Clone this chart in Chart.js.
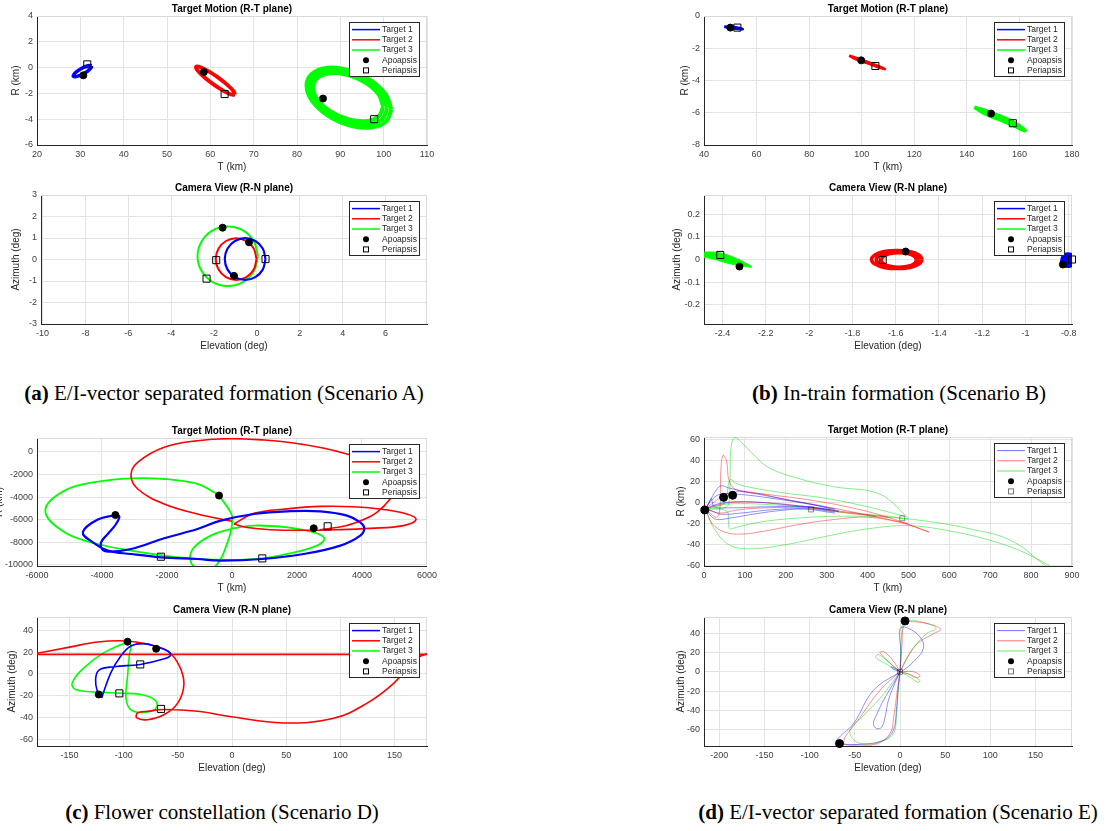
<!DOCTYPE html>
<html>
<head>
<meta charset="utf-8">
<script src="https://cdn.jsdelivr.net/npm/chart.js@4.4.0/dist/chart.umd.min.js"></script>
<style>
  body { margin: 0; background: #fff; width: 1114px; height: 831px; position: relative; overflow: hidden; }
  canvas { position: absolute; }
  .cap { position: absolute; font-family: "Liberation Serif", "DejaVu Serif", serif; font-size: 21px; line-height: 24px;
         color: #000; white-space: nowrap; transform: translateX(-50%); }
</style>
</head>
<body>
<div class="cap" style="left:224px;top:381px"><b>(a)</b> E/I-vector separated formation (Scenario A)</div>
<div class="cap" style="left:899px;top:381px"><b>(b)</b> In-train formation (Scenario B)</div>
<div class="cap" style="left:222px;top:800px"><b>(c)</b> Flower constellation (Scenario D)</div>
<div class="cap" style="left:898px;top:800px"><b>(d)</b> E/I-vector separated formation (Scenario E)</div>
<script>
// ---- data: [x, y] pairs ----
// (a) top, T (km) vs R (km)
const aTopBlue = [[32.6,0.13],[32.14,0.17],[31.25,0.09],[30.15,-0.09],[29.15,-0.31],[28.51,-0.53],[28.4,-0.67],[28.86,-0.71],[29.75,-0.63],[30.85,-0.45],[31.85,-0.23],[32.49,-0.01],[32.6,0.13]];
const aTopRed = [[65.7,-2.10],[65.37,-1.83],[63.93,-1.34],[61.75,-0.76],[59.43,-0.26],[57.58,0.05],[56.7,0.06],[57.03,-0.22],[58.47,-0.71],[60.65,-1.28],[62.97,-1.79],[64.82,-2.09],[65.7,-2.10]];
const aTopGreenOut = [[101.8,-3.26],[100.49,-2.07],[96.9,-0.95],[92.0,-0.19],[87.1,-0.01],[83.51,-0.46],[82.2,-1.40],[83.51,-2.59],[87.1,-3.71],[92.0,-4.47],[96.9,-4.65],[100.49,-4.20],[101.8,-3.26]];
const aTopGreenMid = [[100.85,-3.15],[99.65,-2.07],[96.38,-1.06],[91.9,-0.38],[87.43,-0.22],[84.15,-0.62],[82.95,-1.47],[84.15,-2.55],[87.43,-3.56],[91.9,-4.24],[96.38,-4.40],[99.65,-4.00],[100.85,-3.15]];
const aTopGreenIn = [[99.9,-3.04],[98.82,-2.08],[95.85,-1.18],[91.8,-0.58],[87.75,-0.43],[84.78,-0.79],[83.7,-1.54],[84.78,-2.5],[87.75,-3.4],[91.8,-4.0],[95.85,-4.15],[98.82,-3.79],[99.9,-3.04]];
const aTopApo = [[30.7,-0.6],[58.5,-0.35],[86.0,-2.4]];
const aTopPeri = [[31.6,0.25],[63.3,-2.05],[97.8,-4.0]];

// (a) bottom, Elevation vs Azimuth (deg)
const aBotBlue = [[0.40,0.02],[0.27,0.51],[-0.075,0.86],[-0.55,0.99],[-1.025,0.86],[-1.37,0.51],[-1.50,0.02],[-1.37,-0.47],[-1.025,-0.82],[-0.55,-0.95],[-0.075,-0.82],[0.27,-0.47],[0.40,0.02]];
const aBotRed = [[-0.02,0.02],[-0.15,0.51],[-0.495,0.86],[-0.97,0.99],[-1.445,0.86],[-1.79,0.51],[-1.92,0.02],[-1.79,-0.47],[-1.445,-0.82],[-0.97,-0.95],[-0.495,-0.82],[-0.15,-0.47],[-0.02,0.02]];
const aBotGreen = [[0.05,0.15],[-0.14,0.84],[-0.655,1.35],[-1.36,1.53],[-2.065,1.35],[-2.58,0.84],[-2.77,0.15],[-2.58,-0.54],[-2.065,-1.05],[-1.36,-1.23],[-0.655,-1.05],[-0.14,-0.54],[0.05,0.15]];
const aBotApo = [[-1.6,1.48],[-0.37,0.8],[-1.07,-0.76]];
const aBotPeri = [[0.4,0.02],[-1.9,-0.03],[-2.35,-0.89]];

// (b) top
const bTopBlue = [[47.7,-0.66],[50,-0.68],[52.5,-0.72],[54.7,-0.80],[52.5,-0.78],[50,-0.74],[47.7,-0.66]];
const bTopRed = [[95.2,-2.46],[98,-2.60],[102,-2.83],[106,-3.08],[108.9,-3.29],[106,-3.16],[102,-2.92],[98,-2.70],[95.2,-2.46]];
const bTopGreen = [[142.8,-5.66],[147,-5.86],[152,-6.17],[157,-6.52],[162.2,-7.11],[157,-6.74],[152,-6.40],[147,-6.08],[142.8,-5.66]];
const bTopApo = [[50,-0.72],[99.8,-2.75],[149.2,-6.05]];
const bTopPeri = [[52.7,-0.72],[105.2,-3.1],[157.5,-6.65]];

// (b) bottom
const bBotBlue = [[-0.835,0.0],[-0.825,0.022],[-0.805,0.028],[-0.785,0.022],[-0.778,-0.02],[-0.79,-0.031],[-0.815,-0.031],[-0.835,-0.015],[-0.835,0.0]];
const bBotRed1 = [[-1.476,0],[-1.492,0.020],[-1.535,0.035],[-1.594,0.040],[-1.653,0.035],[-1.696,0.020],[-1.712,0],[-1.696,-0.020],[-1.653,-0.035],[-1.594,-0.040],[-1.535,-0.035],[-1.492,-0.020],[-1.476,0]];
const bBotRed2 = [[-1.490,-0.001],[-1.503,0.017],[-1.540,0.030],[-1.590,0.035],[-1.640,0.030],[-1.677,0.017],[-1.690,-0.001],[-1.677,-0.019],[-1.640,-0.032],[-1.590,-0.037],[-1.540,-0.032],[-1.503,-0.019],[-1.490,-0.001]];
const bBotRed3 = [[-1.503,-0.002],[-1.514,0.014],[-1.544,0.026],[-1.585,0.030],[-1.626,0.026],[-1.656,0.014],[-1.667,-0.002],[-1.656,-0.018],[-1.626,-0.030],[-1.585,-0.034],[-1.544,-0.030],[-1.514,-0.018],[-1.503,-0.002]];
const bBotGreen = [[-2.52,0.030],[-2.45,0.033],[-2.40,0.026],[-2.35,0.010],[-2.30,-0.012],[-2.265,-0.033],[-2.30,-0.030],[-2.35,-0.022],[-2.40,-0.010],[-2.45,0.004],[-2.52,0.015],[-2.52,0.030]];
const bBotApo = [[-2.322,-0.031],[-1.554,0.035],[-0.827,-0.022]];
const bBotPeri = [[-2.411,0.020],[-1.66,-0.002],[-0.785,0.0]];

// (c) top
const cTopBlue = [[-3588,-5594],[-3466,-5710],[-3567,-6394],[-3821,-7282],[-4027,-8018],[-3990,-8650],[-3800,-8850],[-3107,-8614],[-2086,-7663],[-1061,-6838],[-347,-6092],[675,-5506],[1699,-5266],[2720,-5266],[3539,-5648],[3947,-6243],[4070,-6775],[3947,-7424],[3334,-8312],[2208,-9058],[932,-9502],[-347,-9644],[-1061,-9502],[-2187,-9351],[-3107,-9058],[-3821,-8756],[-4281,-8018],[-4588,-7131],[-4128,-6003],[-3588,-5594]];
const cTopRedLoop = [[61,-6394],[675,-5450],[1699,-5050],[2720,-4830],[3742,-4860],[4659,-5100],[5379,-5506],[5664,-6003],[5275,-6536],[4254,-6780],[3231,-6900],[2208,-6950],[1188,-6900],[470,-6700],[61,-6394]];
const cTopRedBig = [[0,-6150],[-1061,-5506],[-2086,-4618],[-2901,-3286],[-3107,-2042],[-2901,-915],[-2086,417],[-1061,1000],[-100,1180],[1000,1060],[1900,800],[2800,350],[3539,-178],[4300,-900],[4850,-2000],[5050,-3100],[4867,-4174],[4459,-5355],[4050,-6003],[3500,-6550],[2700,-6900]];
const cTopGreen = [[-399,-3872],[-40,-5355],[12,-5950],[-40,-7131],[-193,-8463],[-347,-9502],[-601,-10300],[-1113,-10239],[-1288,-9502],[-1166,-8463],[-653,-7424],[-40,-6838],[675,-6536],[1699,-6687],[2515,-7131],[2843,-7663],[2619,-8312],[1699,-9058],[932,-9450],[-40,-9590],[-1061,-9502],[-2086,-9200],[-3107,-8756],[-4128,-8170],[-5152,-7131],[-5745,-5204],[-5152,-3428],[-4128,-2628],[-3107,-2335],[-2086,-2397],[-1061,-2842],[-552,-3579],[-399,-3872]];
const cTopApo = [[-3588,-5594],[-399,-3872],[2515,-6775]];
const cTopPeri = [[-2187,-9300],[932,-9450],[2944,-6598]];

// (c) bottom
const cBotRedLine = [[-180,17.8],[180,17.8]];
const cBotRed = [[-180,18.8],[-150,24.5],[-124,29.2],[-98,30.2],[-78,27.1],[-59.3,20.9],[-48.5,7.1],[-44.4,-9.8],[-50,-26.8],[-62.4,-37.5],[-78,-42.2],[-87.8,-40.6],[-87.2,-36],[-78,-34.5],[-62.4,-32.9],[-31.4,-34.5],[-0.4,-39.5],[47,-45.2],[93,-41.2],[124,-27.4],[149,-9],[170,14],[180,18.5]];
const cBotBlue = [[-120.3,-22.2],[-111.9,0.9],[-102.6,16.3],[-93.3,25.5],[-81,27.7],[-70,25],[-59.3,20.9],[-56.8,16.9],[-62.4,13.8],[-84.7,8.6],[-108.8,6.5],[-122.8,3.4],[-125.9,-5.2],[-124.3,-16],[-120.3,-22.2]];
const cBotGreen = [[-96.4,29.5],[-118.1,19.4],[-136.7,5.5],[-147.5,-8.3],[-144.4,-14.5],[-124.3,-16.9],[-103.9,-17.8],[-84,-19.1],[-71.7,-23.7],[-69.2,-29.8],[-74.8,-34.5],[-87.2,-35.4],[-94.9,-31.4],[-98,-20.6],[-96.4,-2.2],[-94.9,16.3],[-93.3,27.1],[-96.4,29.5]];
const cBotApo = [[-96.4,29.5],[-70,23],[-123,-19]];
const cBotPeri = [[-104,-18],[-84.7,8.6],[-65.5,-32.3]];

// (d) top
const dTopBlue = [
  [[3,-6],[15,2],[30,12],[42,16],[60,14],[120,9],[200,3],[280,-3],[330,-8]],
  [[3,-6],[15,-12],[30,-16],[60,-15],[120,-11],[200,-7],[260,-6],[320,-9]],
  [[3,-6],[20,3],[40,8],[80,8],[150,5],[250,-1],[320,-6]],
  [[3,-6],[20,-8],[40,-11],[90,-10],[160,-7],[240,-6],[320,-10]],
  [[3,-6],[20,-3],[50,0],[100,1],[200,-2],[300,-6],[330,-9]],
  [[3,-6],[10,-2],[18,4],[20,1],[25,-4],[60,-5],[150,-4],[250,-4],[310,-7]]
];
const dTopRed = [
  [[3,-6],[30,-14],[38,-8],[40,10],[42,35],[47,45],[55,40],[62,20],[80,12],[150,8],[250,3],[350,-4],[450,-14],[550,-28]],
  [[3,-6],[20,-20],[50,-28],[90,-30],[150,-27],[230,-21],[320,-16],[400,-14],[480,-19],[550,-28]],
  [[3,-6],[30,2],[60,9],[110,10],[200,3],[300,-4],[400,-12],[500,-20]],
  [[3,-6],[40,-10],[80,-7],[150,-5],[250,-5],[350,-9],[450,-14]],
  [[3,-6],[35,-2],[70,0],[150,0],[250,-4],[330,-9],[420,-13]]
];
const dTopGreen = [
  [[3,-6],[55,-4],[62,5],[64,30],[66,52],[75,62],[90,58],[120,46],[160,33],[240,22],[320,15],[430,8],[500,-15]],
  [[3,-6],[45,-2],[55,5],[60,18],[65,22],[80,18],[120,14],[200,9],[300,4],[400,-4],[490,-13]],
  [[3,-6],[10,-12],[25,-25],[60,-40],[110,-44],[200,-40],[300,-32],[400,-25],[500,-22],[600,-27],[700,-36],[780,-47],[845,-60]],
  [[3,-6],[55,-8],[60,-18],[63,-25],[75,-24],[130,-19],[220,-15],[330,-13],[450,-14],[550,-18],[650,-25],[750,-36],[835,-60]],
  [[3,-6],[30,-3],[80,-1],[160,-2],[260,-5],[360,-10],[450,-13],[500,-16]]
];
const dTopApo = [[2,-7],[48,5],[70,7]];
const dTopPeri = [[262,-6.5],[485,-15]];

// (d) bottom
const dBotBlue = [
  [[0,0],[1,20],[0,44.8],[7.4,45.9],[22.1,36.2],[25.8,24.1],[14.7,10.3],[3.7,1.6],[0,0]],
  [[0,0],[-7.4,-12.2],[-18.3,-29.6],[-25.4,-43.4],[-29.4,-53.8],[-25.8,-59],[-20.2,-57.2],[-16.5,-46.9],[-12.9,-29.6],[-7.4,-15.6],[0,0]],
  [[0,0],[-29.4,-19.2],[-51.5,-53.8],[-70,-71],[-66.3,-74.5],[-44,-75.2],[-18.3,-71],[-7.4,-60.7],[-3.7,-36.5],[-1.8,-15.6],[0,0]],
  [[0,0],[-8,3],[-10,5],[-6,4],[0,0]]
];
const dBotRed = [
  [[0,0],[2,25],[5,50],[15,52],[35,49],[45,44],[38,40],[20,30],[8,15],[0,0]],
  [[0,0],[-3,-19],[-7,-47],[-11,-64],[-25,-74.5],[-44,-76],[-62.6,-73.8],[-44,-47],[-22,-19],[-7,-5.5],[0,0]],
  [[0,0],[-12,10],[-22,20],[-18,21],[-8,12],[0,0]],
  [[0,0],[15,0],[22,-4],[18,-6],[8,-2],[0,0]]
];
const dBotGreen = [
  [[0,0],[2,40],[5.6,52.8],[30,50],[40,45],[30,40],[15,25],[0,0]],
  [[0,0],[-20,-25],[-40,-45],[-55,-60],[-52,-70],[-40,-75],[-22,-72.8],[-7.4,-64.2],[-4,-45],[-2,-20],[0,0]],
  [[0,0],[-15,8],[-27,15],[-24,18],[-10,8],[0,0]],
  [[0,0],[12,-3],[22,-9],[20,-11],[10,-5],[0,0]]
];
const dBotApo = [[5.6,52.8],[-67,-74.5]];
const dBotPeri = [[0,0]];

// ---- tick labels ----
const aTopXTicks = [20,30,40,50,60,70,80,90,100,110];
const aTopYTicks = [-6,-4,-2,0,2,4];
const aBotXTicks = [-10,-8,-6,-4,-2,0,2,4,6];
const aBotYTicks = [-3,-2,-1,0,1,2,3];
const bTopXTicks = [40,60,80,100,120,140,160,180];
const bTopYTicks = [-8,-6,-4,-2,0];
const bBotXTicks = [-2.4,-2.2,-2,-1.8,-1.6,-1.4,-1.2,-1,-0.8];
const bBotYTicks = [-0.2,-0.1,0,0.1,0.2];
const cTopXTicks = [-6000,-4000,-2000,0,2000,4000,6000];
const cTopYTicks = [-10000,-8000,-6000,-4000,-2000,0];
const cBotXTicks = [-150,-100,-50,0,50,100,150];
const cBotYTicks = [-60,-40,-20,0,20,40];
const dTopXTicks = [0,100,200,300,400,500,600,700,800,900];
const dTopYTicks = [-60,-40,-20,0,20,40,60];
const dBotXTicks = [-200,-150,-100,-50,0,50,100,150];
const dBotYTicks = [-60,-40,-20,0,20,40];

const legendNames = ['Target 1', 'Target 2', 'Target 3', 'Apoapsis', 'Periapsis'];

const FONT = '"Liberation Sans", Arial, Helvetica, sans-serif';
const BLUE = '#0000ff', RED = '#ff0000', GREEN = '#00ff00';
const BLUE_T = 'rgba(0,0,255,0.55)', RED_T = 'rgba(255,0,0,0.55)', GREEN_T = 'rgba(0,220,0,0.6)';

function pts(arr) {
    return arr.map(p => ({ x: p[0], y: p[1] }));
}

function line(arr, color, width, fill) {
    return {
        data: pts(arr), showLine: true, borderColor: color, backgroundColor: color,
        borderWidth: width, pointRadius: 0, tension: 0.4, fill: fill ? 'shape' : false, order: 2
    };
}

function apo(arr, r) {
    return { data: pts(arr), showLine: false, pointStyle: 'circle', pointRadius: r || 3.5,
        backgroundColor: '#000', borderColor: '#000', borderWidth: 1, order: 0, clip: 10 };
}

function peri(arr, r, col) {
    return { data: pts(arr), showLine: false, pointStyle: 'rect', pointRadius: r || 5,
        backgroundColor: 'rgba(0,0,0,0)', borderColor: col || '#000', borderWidth: 1, order: 0, clip: 10 };
}

// light box edges on top and right, like the MATLAB axes box
const frame = {
    id: 'frame',
    beforeDatasetsDraw(chart) {
        const { ctx, chartArea: a } = chart;
        ctx.save();
        ctx.strokeStyle = '#dadada';
        ctx.lineWidth = 1;
        ctx.beginPath();
        ctx.moveTo(a.left, a.top + 0.5);
        ctx.lineTo(a.right - 0.5, a.top + 0.5);
        ctx.lineTo(a.right - 0.5, a.bottom);
        ctx.stroke();
        ctx.restore();
    }
};

// legend box drawn inside the upper right corner of the axes
const mlLegend = {
    id: 'mlLegend',
    afterDraw(chart, args, opts) {
        const { ctx, chartArea: a } = chart;
        const w = 71, h = 55;
        const x = Math.round(a.right - 7 - w), y = Math.round(a.top + 6);
        ctx.save();
        ctx.fillStyle = '#fff';
        ctx.fillRect(x, y, w, h);
        ctx.strokeStyle = '#262626';
        ctx.lineWidth = 1;
        ctx.strokeRect(x + 0.5, y + 0.5, w - 1, h - 1);
        ctx.font = '8.5px ' + FONT;
        ctx.textBaseline = 'middle';
        opts.items.forEach((it, i) => {
            const cy = y + 7.6 + 10.2 * i;
            if (it.kind === 'line') {
                ctx.strokeStyle = it.color;
                ctx.lineWidth = it.width;
                ctx.beginPath();
                ctx.moveTo(x + 3, cy);
                ctx.lineTo(x + 31, cy);
                ctx.stroke();
            } else if (it.kind === 'dot') {
                ctx.fillStyle = '#000';
                ctx.beginPath();
                ctx.arc(x + 17, cy, 3, 0, Math.PI * 2);
                ctx.fill();
            } else {
                ctx.strokeStyle = it.color;
                ctx.lineWidth = 1;
                ctx.strokeRect(x + 14.5, cy - 2.5, 5, 5);
            }
            ctx.fillStyle = '#262626';
            ctx.fillText(it.label, x + 33, cy);
        });
        ctx.restore();
    }
};

function legendItems(colors, width, periCol) {
    return [
        { kind: 'line', color: colors[0], width: width, label: legendNames[0] },
        { kind: 'line', color: colors[1], width: width, label: legendNames[1] },
        { kind: 'line', color: colors[2], width: width, label: legendNames[2] },
        { kind: 'dot', label: legendNames[3] },
        { kind: 'square', color: periCol || '#000', label: legendNames[4] }
    ];
}

function axis(range, ticks, title, dir, size) {
    return {
        type: 'linear', min: range[0], max: range[1],
        afterBuildTicks: s => { s.ticks = ticks.map(v => ({ value: v })); },
        afterFit: s => { if (dir === 'x') s.height = size; else s.width = size; },
        grid: { color: '#e3e3e3', drawTicks: false, lineWidth: 1 },
        border: { color: '#262626', width: 1 },
        ticks: { color: '#404040', font: { family: FONT, size: 9 }, padding: 4,
            autoSkip: false, maxRotation: 0, callback: v => String(v) },
        title: { display: true, text: title, color: '#262626', font: { family: FONT, size: 10 }, padding: 0 }
    };
}

// area = [left, right, top, bottom] of the plot box on the page
function makePlot(p) {
    const W = p.yw, R = 14, TH = 13, XH = 28;
    const cw = W + (p.area[1] - p.area[0]) + R;
    const ch = TH + (p.area[3] - p.area[2]) + XH;
    const cv = document.createElement('canvas');
    cv.width = cw;
    cv.height = ch;
    cv.style.left = (p.area[0] - W) + 'px';
    cv.style.top = (p.area[2] - TH) + 'px';
    cv.style.width = cw + 'px';
    cv.style.height = ch + 'px';
    document.body.appendChild(cv);
    new Chart(cv, {
        type: 'scatter',
        data: { datasets: p.datasets },
        options: {
            responsive: false, animation: false, events: [],
            layout: { padding: { left: 0, right: R, top: 0, bottom: 0 } },
            plugins: {
                legend: { display: false },
                tooltip: { enabled: false },
                title: { display: true, text: p.title, fullSize: false, color: '#000',
                    font: { family: FONT, size: 10, weight: 'bold', lineHeight: 1.2 }, padding: { top: 0, bottom: 1 } },
                mlLegend: { items: p.legend }
            },
            scales: {
                x: axis(p.x, p.xTicks, p.xTitle, 'x', XH),
                y: axis(p.y, p.yTicks, p.yTitle, 'y', W)
            }
        },
        plugins: [frame, mlLegend]
    });
}

const TOP_TITLE = 'Target Motion (R-T plane)';
const BOT_TITLE = 'Camera View (R-N plane)';
const solid = [BLUE, RED, GREEN];
const faint = [BLUE_T, RED_T, GREEN_T];

makePlot({
    area: [37, 427, 16, 145], yw: 27, x: [20, 110], y: [-6, 4], xTicks: aTopXTicks, yTicks: aTopYTicks,
    title: TOP_TITLE, xTitle: 'T (km)', yTitle: 'R (km)', legend: legendItems(solid, 1.5),
    datasets: [apo(aTopApo), peri(aTopPeri),
        line(aTopBlue, BLUE, 3.5), line(aTopRed, RED, 3.8),
        line(aTopGreenOut, GREEN, 4), line(aTopGreenMid, GREEN, 4), line(aTopGreenIn, GREEN, 4)]
});

makePlot({
    area: [41, 427, 195, 324], yw: 31, x: [-10.07, 7.93], y: [-3, 3], xTicks: aBotXTicks, yTicks: aBotYTicks,
    title: BOT_TITLE, xTitle: 'Elevation (deg)', yTitle: 'Azimuth (deg)', legend: legendItems(solid, 1.5),
    datasets: [apo(aBotApo), peri(aBotPeri),
        line(aBotBlue, BLUE, 2.2), line(aBotRed, RED, 2), line(aBotGreen, GREEN, 2)]
});

makePlot({
    area: [704, 1072, 16, 145], yw: 25, x: [40, 180], y: [-8, 0], xTicks: bTopXTicks, yTicks: bTopYTicks,
    title: TOP_TITLE, xTitle: 'T (km)', yTitle: 'R (km)', legend: legendItems(solid, 1.5),
    datasets: [apo(bTopApo), peri(bTopPeri),
        line(bTopBlue, BLUE, 3), line(bTopRed, RED, 2.5), line(bTopGreen, GREEN, 3.5)]
});

makePlot({
    area: [704, 1072, 195, 324], yw: 33, x: [-2.486, -0.785], y: [-0.284, 0.284], xTicks: bBotXTicks, yTicks: bBotYTicks,
    title: BOT_TITLE, xTitle: 'Elevation (deg)', yTitle: 'Azimuth (deg)', legend: legendItems(solid, 1.5),
    datasets: [apo(bBotApo), peri(bBotPeri),
        line(bBotBlue, BLUE, 2, true), line(bBotRed1, RED, 3.5), line(bBotRed2, RED, 3.5), line(bBotRed3, RED, 3.5),
        line(bBotGreen, GREEN, 1, true)]
});

makePlot({
    area: [37, 427, 438, 566], yw: 44, x: [-6000, 6000], y: [-10124, 1242], xTicks: cTopXTicks, yTicks: cTopYTicks,
    title: TOP_TITLE, xTitle: 'T (km)', yTitle: 'R (km)', legend: legendItems(solid, 1.5),
    datasets: [apo(cTopApo), peri(cTopPeri),
        line(cTopBlue, BLUE, 2.2), line(cTopRedLoop, RED, 1.6), line(cTopRedBig, RED, 1.6), line(cTopGreen, GREEN, 1.8)]
});

makePlot({
    area: [37, 427, 617, 746], yw: 31, x: [-180, 180], y: [-66.4, 52.2], xTicks: cBotXTicks, yTicks: cBotYTicks,
    title: BOT_TITLE, xTitle: 'Elevation (deg)', yTitle: 'Azimuth (deg)', legend: legendItems(solid, 1.5),
    datasets: [apo(cBotApo), peri(cBotPeri),
        line(cBotBlue, BLUE, 1.6), line(cBotRedLine, RED, 1.8), line(cBotRed, RED, 1.6), line(cBotGreen, GREEN, 1.6)]
});

makePlot({
    area: [704, 1072, 437, 566], yw: 29, x: [0, 900], y: [-60.4, 62.5], xTicks: dTopXTicks, yTicks: dTopYTicks,
    title: TOP_TITLE, xTitle: 'T (km)', yTitle: 'R (km)', legend: legendItems(faint, 1, '#777'),
    datasets: [apo(dTopApo, 4), peri(dTopPeri, 3.5, 'rgba(0,0,0,0.45)')]
        .concat(dTopBlue.map(d => line(d, BLUE_T, 0.8)))
        .concat(dTopRed.map(d => line(d, RED_T, 0.8)))
        .concat(dTopGreen.map(d => line(d, GREEN_T, 0.8)))
});

makePlot({
    area: [704, 1072, 617, 746], yw: 29, x: [-217, 190.4], y: [-77, 56.9], xTicks: dBotXTicks, yTicks: dBotYTicks,
    title: BOT_TITLE, xTitle: 'Elevation (deg)', yTitle: 'Azimuth (deg)', legend: legendItems(faint, 1, '#777'),
    datasets: [apo(dBotApo, 4), peri(dBotPeri, 3.5, 'rgba(0,0,0,0.45)')]
        .concat(dBotBlue.map(d => line(d, BLUE_T, 0.8)))
        .concat(dBotRed.map(d => line(d, RED_T, 0.8)))
        .concat(dBotGreen.map(d => line(d, GREEN_T, 0.8)))
});
</script>
</body>
</html>
